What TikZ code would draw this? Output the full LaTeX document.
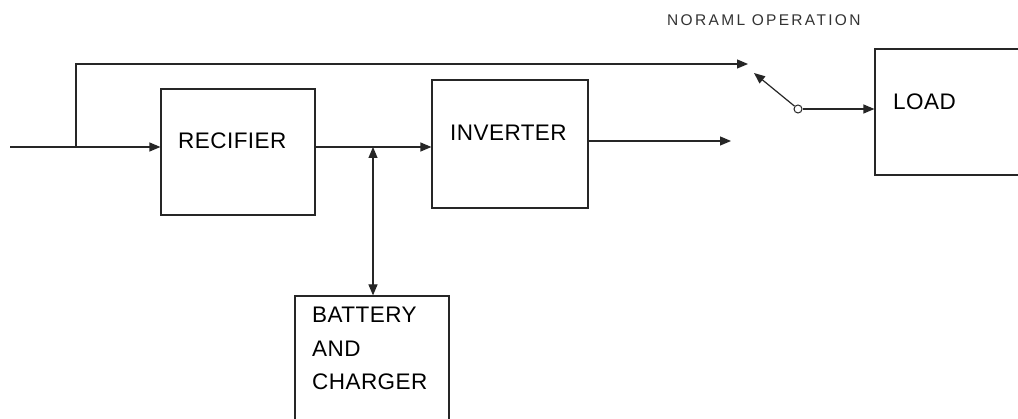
\documentclass[tikz,border=0pt]{standalone}
\usepackage{fontspec}
\setmainfont{Liberation Sans}[LetterSpace=2]
\newfontfamily\notefont{Liberation Sans}[LetterSpace=15]
\usetikzlibrary{arrows.meta,positioning,calc}

\tikzset{
  blk/.style={draw=black!85, line width=1.2pt, minimum width=154pt, minimum height=126pt, inner sep=0pt},
  lbl/.style={anchor=west, inner sep=0pt, font=\fontsize{22.5}{26}\selectfont},
  wire/.style={draw=black!85, line width=1.2pt},
  arr/.style={wire, -{Triangle[length=11pt,width=9pt]}},
}

\begin{document}
\begin{tikzpicture}[x=1pt, y=-1pt]
    \useasboundingbox (0,0) rectangle (1018,419);
    \clip (0,0) rectangle (1018,419);
    \fill[white] (0,0) rectangle (1018,419);

    % Blocks
    \node[blk] (rect) at (238,152) {};
    \node[blk, minimum width=156pt, minimum height=128pt] (inv) at (510,144) {};
    \node[blk, minimum width=160pt] (load) at (955,112) {};
    \node[blk] (bat) at (372,359) {};

    % Block texts
    \node[lbl] (recT) at (178,141) {RECIFIER};
    \node[lbl] (invT) at (450,133) {INVERTER};
    \node[lbl] (loadT) at (893,102) {LOAD};
    \node[lbl, anchor=north west, align=left,
          font=\fontsize{22.5}{33.5}\selectfont] (batT) at (312,307) {BATTERY\\AND\\CHARGER};
    \node[anchor=west, inner sep=0pt, text=black!80, font=\notefont\fontsize{15.5}{18}\selectfont]
        (note) at (667,20) {NORAML OPERATION};

    % Points on the lines
    \coordinate (in) at (10,147);
    \coordinate (br) at (76,147);
    \coordinate (jn) at (373,147);
    \coordinate (byp) at (748,64);
    \coordinate (out) at (731,141);
    \coordinate (thr) at (754,73);
    \node[draw=black!85, line width=1pt, fill=white, circle, inner sep=0pt, minimum size=8pt] (pole) at (798,109) {};

    % Main path
    \draw[arr] (in) -- (in -| rect.west);
    \draw[arr] (rect.east |- in) -- (inv.west |- in);
    \draw[arr] (inv.east |- out) -- (out);

    % Bypass line
    \draw[wire] (br) |- ($(byp)+(-8,0)$);
    \draw[arr] ($(byp)+(-10,0)$) -- (byp);

    % Battery link
    \draw[wire, {Triangle[length=11pt,width=9pt]}-{Triangle[length=11pt,width=9pt]}] (bat.north -| jn) -- (jn);

    % Switch
    \draw[arr] (pole) -- (thr);
    \draw[arr] (pole) -- (pole -| load.west);
\end{tikzpicture}
\end{document}
